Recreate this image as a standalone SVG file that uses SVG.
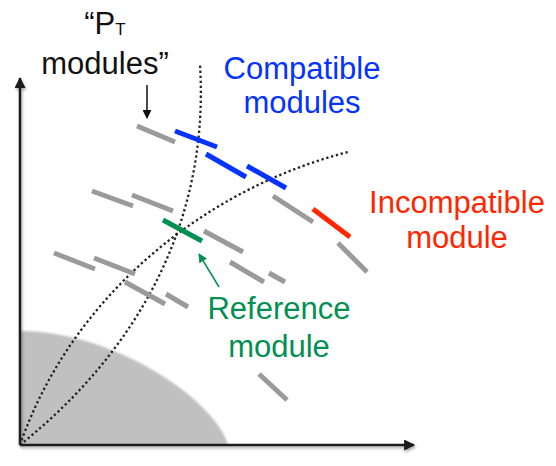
<svg xmlns="http://www.w3.org/2000/svg" width="556" height="466" viewBox="0 0 556 466">
<defs>
<style>
.lbl{font-family:"Liberation Sans",Arial,Helvetica,sans-serif;font-size:31px;text-anchor:middle}
.seg{stroke-width:5;stroke-linecap:butt;fill:none}
.g{stroke:#9a9a9a}
.b{stroke:#0433ff}
.r{stroke:#ff2600}
.gr{stroke:#009051}
.dot{fill:none;stroke:#222;stroke-width:2.3;stroke-dasharray:2.3 2.7}
.axis{stroke:#1a1a1a;stroke-width:2.5;fill:none}
</style>
<filter id="sh" x="-10%" y="-10%" width="130%" height="130%">
<feDropShadow dx="1" dy="2" stdDeviation="1.5" flood-color="#000" flood-opacity="0.35"/>
</filter>
<filter id="soft" x="-5%" y="-5%" width="110%" height="110%">
<feGaussianBlur stdDeviation="1"/>
</filter>
<marker id="ah" viewBox="0 0 10 10" refX="9" refY="5" markerWidth="9" markerHeight="9" markerUnits="userSpaceOnUse" orient="auto">
<path d="M0,0 L10,5 L0,10 z" fill="#111"/>
</marker>
<marker id="ahg" viewBox="0 0 10 10" refX="9" refY="5" markerWidth="9" markerHeight="9" markerUnits="userSpaceOnUse" orient="auto">
<path d="M0,0 L10,5 L0,10 z" fill="#009051"/>
</marker>
<marker id="axh" viewBox="0 0 10 10" refX="9" refY="5" markerWidth="12" markerHeight="11" markerUnits="userSpaceOnUse" orient="auto">
<path d="M0,0 L10,5 L0,10 z" fill="#1a1a1a"/>
</marker>
</defs>

<g id="region">
<path d="M20,445 L20,331 C115,331 215,400 228,445 Z" fill="#c0c0c0" filter="url(#soft)"/>
</g>

<g id="axes" filter="url(#sh)">
<line class="axis" x1="20" y1="445" x2="20" y2="78" marker-end="url(#axh)"/>
<line class="axis" x1="20" y1="445" x2="414" y2="445" marker-end="url(#axh)"/>
</g>

<g id="tracks">
<path class="dot" d="M20,445 C130,357 210,230 200,65"/>
<path class="dot" d="M20,445 C70,300 200,190 348,152"/>
</g>

<g id="modules">
<line class="seg g" x1="137" y1="126" x2="175" y2="142"/>
<line class="seg b" x1="175" y1="131" x2="217" y2="147"/>
<line class="seg b" x1="206" y1="154" x2="246" y2="177"/>
<line class="seg b" x1="247" y1="166" x2="286" y2="188"/>
<line class="seg g" x1="273" y1="196" x2="313" y2="222"/>
<line class="seg r" x1="313" y1="209" x2="350" y2="237"/>
<line class="seg g" x1="338" y1="243" x2="367" y2="272"/>

<line class="seg g" x1="92" y1="191" x2="133" y2="206"/>
<line class="seg g" x1="132" y1="195" x2="173" y2="211"/>
<line class="seg gr" x1="163" y1="220" x2="202" y2="241"/>
<line class="seg g" x1="204" y1="231" x2="243" y2="252"/>
<line class="seg g" x1="230" y1="262" x2="264" y2="282"/>
<line class="seg g" x1="269" y1="273" x2="285" y2="282"/>
<line class="seg g" x1="259" y1="374" x2="287" y2="400"/>

<line class="seg g" x1="54" y1="253" x2="95" y2="269"/>
<line class="seg g" x1="94" y1="258" x2="135" y2="274"/>
<line class="seg g" x1="125" y1="282" x2="165" y2="304"/>
<line class="seg g" x1="166" y1="294" x2="188" y2="307"/>
</g>

<g id="connectors">
<line x1="147" y1="85" x2="147" y2="118" stroke="#111" stroke-width="1.5" marker-end="url(#ah)"/>
<line x1="219" y1="287" x2="199" y2="254" stroke="#009051" stroke-width="1.5" marker-end="url(#ahg)"/>
</g>

<g id="label-pt">
<text class="lbl" x="105" y="34" fill="#111">“P<tspan font-size="17" dy="1">T</tspan></text>
<text class="lbl" x="105" y="74" fill="#111">modules”</text>
</g>

<g id="label-compatible">
<text class="lbl" x="302" y="79" fill="#0433ff">Compatible</text>
<text class="lbl" x="302" y="113" fill="#0433ff">modules</text>
</g>

<g id="label-incompatible">
<text class="lbl" x="457" y="213" fill="#ff2600">Incompatible</text>
<text class="lbl" x="457" y="248" fill="#ff2600">module</text>
</g>

<g id="label-reference">
<text class="lbl" x="279" y="319" fill="#009051">Reference</text>
<text class="lbl" x="279" y="357" fill="#009051">module</text>
</g>
</svg>
